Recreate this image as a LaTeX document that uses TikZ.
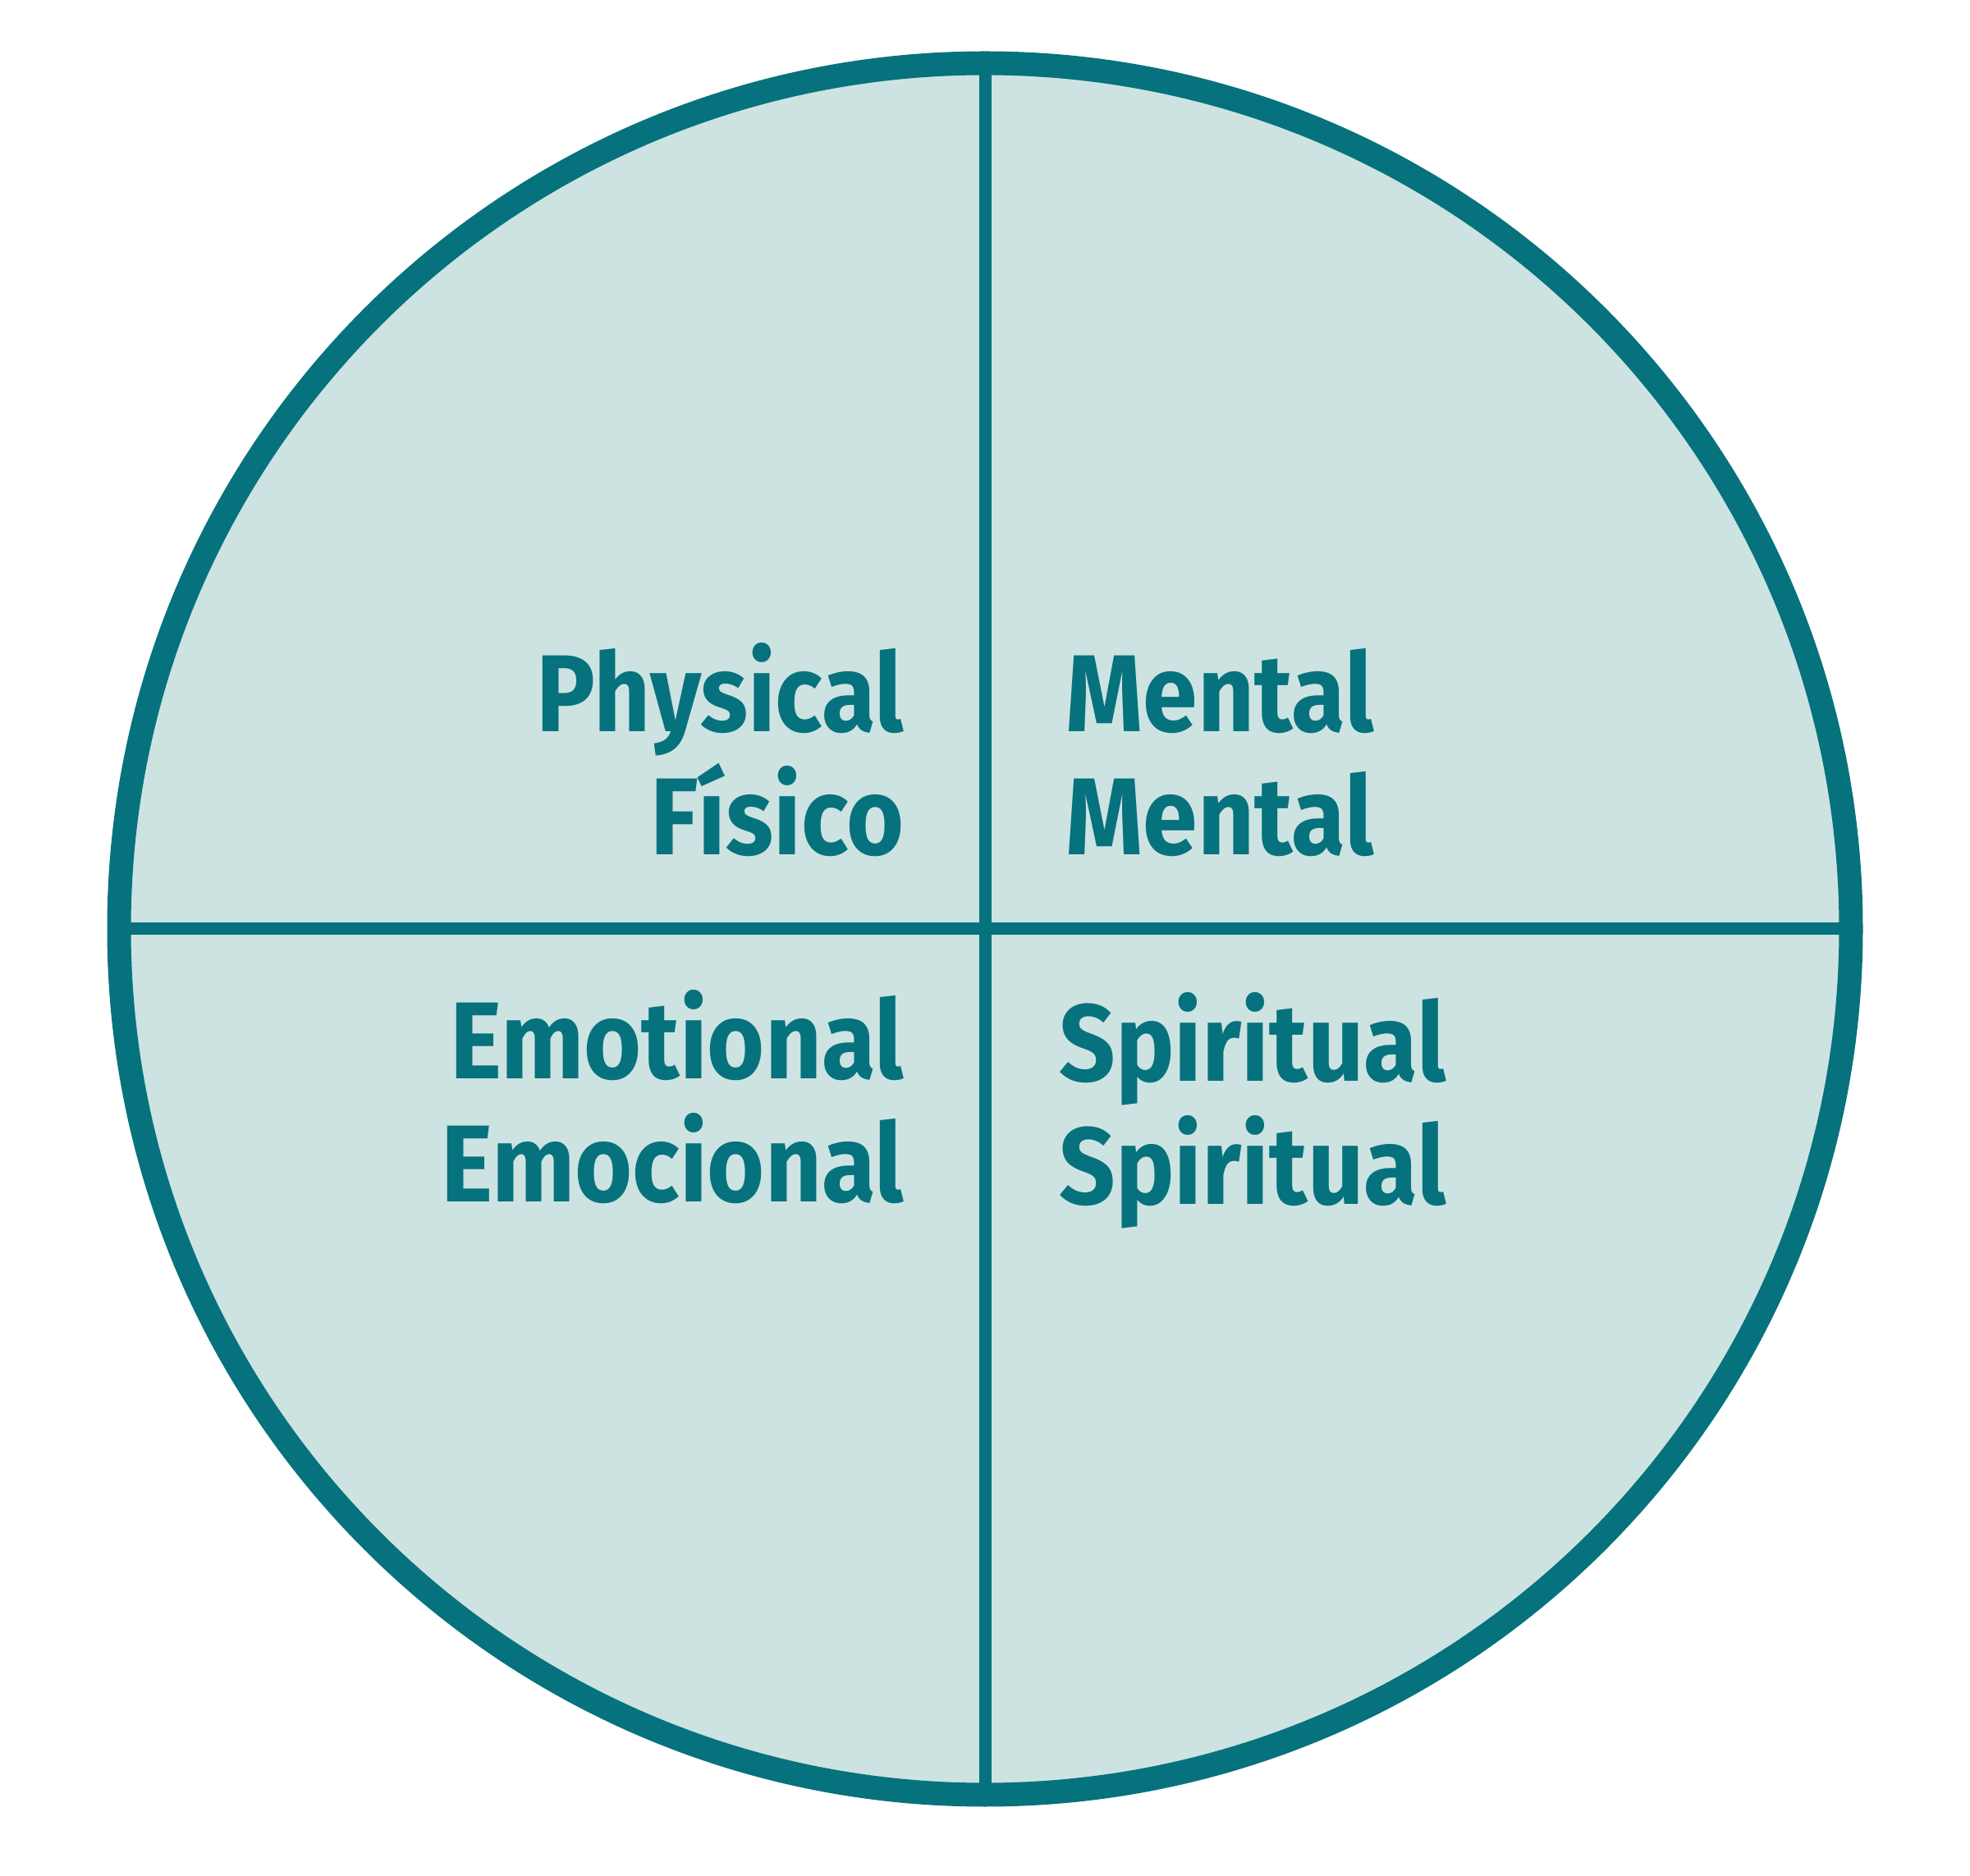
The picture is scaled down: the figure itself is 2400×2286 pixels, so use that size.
\documentclass[tikz,border=0pt]{standalone}
\usepackage{fontspec}
\setmainfont[FakeStretch=0.9]{Fira Sans}
\definecolor{teal}{HTML}{06727D}
\definecolor{pale}{HTML}{CDE3E1}
\begin{document}
\begin{tikzpicture}[x=0.3pt,y=-0.3pt,
  lbl/.style={inner sep=0pt,text=teal,font=\fontsize{40pt}{48pt}\selectfont\bfseries},
  ring/.style={draw=teal,line width=8.7pt},
  divider/.style={draw=teal,line width=4.5pt}]
\useasboundingbox (0,0) rectangle (2400,2286);
\coordinate (c) at (1200,1132);
\fill[pale] (c) circle[radius=1055*0.3pt];
\coordinate (top) at (1200,90);
\coordinate (bot) at (1200,2175);
\coordinate (lft) at (155,1132);
\coordinate (rgt) at (2245,1132);
\draw[divider] (top) -- (bot);
\draw[divider] (lft) -- (rgt);
\draw[ring] (c) circle[radius=1055*0.3pt];
\node[lbl,anchor=base east] (phys) at (1102,892) {Physical};
\node[lbl,anchor=base east] (fis) at (1102,1042) {Físico};
\node[lbl,anchor=base west] (ment) at (1298,892) {Mental};
\node[lbl,anchor=base west] (ment2) at (1298,1042) {Mental};
\node[lbl,anchor=base east] (emo) at (1102,1315) {Emotional};
\node[lbl,anchor=base east] (emo2) at (1102,1465) {Emocional};
\node[lbl,anchor=base west] (spi) at (1290,1318) {Spiritual};
\node[lbl,anchor=base west] (spi2) at (1290,1468) {Spiritual};
\end{tikzpicture}
\end{document}
